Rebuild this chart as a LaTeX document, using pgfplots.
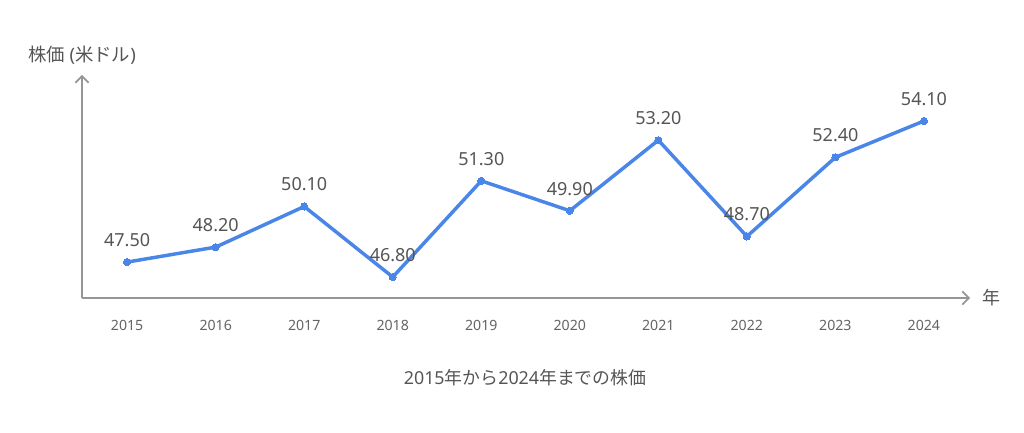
\documentclass[border=0pt]{standalone}
\usepackage{fontspec}
\setmainfont{Noto Sans}
\newfontfamily\jp{Noto Sans CJK JP}
\usepackage{pgfplots}
\pgfplotsset{compat=1.18}
\usetikzlibrary{arrows.meta}

\definecolor{linecol}{RGB}{74,134,232}
\definecolor{axiscol}{RGB}{150,150,150}
\definecolor{labcol}{RGB}{85,85,85}
\definecolor{tickcol}{RGB}{100,100,100}

\begin{document}
\begin{tikzpicture}
  \path[use as bounding box] (0,0) rectangle (768pt,324pt);
  \begin{axis}[
    at={(61.5pt,100.5pt)}, anchor=south west,
    scale only axis,
    width=666pt, height=167.25pt,
    xmin=2014.49, xmax=2024.52,
    ymin=45.82, ymax=56.25,
    axis lines=left,
    axis line style={axiscol, line width=1.4pt, -{Straight Barb[length=5pt,width=10pt,line width=1.2pt]}},
    xtick={2015,...,2024},
    ytick=\empty,
    major tick length=0pt,
    /pgf/number format/assume math mode=true,
    xticklabel={\pgfmathprintnumber[1000 sep={}]{\tick}},
    xticklabel style={font=\fontsize{10.6}{12}\selectfont, text=tickcol, yshift=-13.5pt},
    xlabel={\jp 年},
    xlabel style={at={(rel axis cs:1,0)}, anchor=west, xshift=5.5pt, font=\fontsize{13.5}{15}\selectfont, text=labcol},
    ylabel={{\jp 株価} ({\jp 米ドル})},
    ylabel style={rotate=-90, at={(rel axis cs:0,1)}, anchor=center, yshift=15pt, font=\fontsize{13.8}{15}\selectfont, text=labcol},
    clip=false,
    nodes near coords,
    point meta=y,
    nodes near coords style={/pgf/number format/.cd, fixed, fixed zerofill, precision=2, /tikz/.cd,
      anchor=center, yshift=16.5pt, font=\fontsize{13.5}{16}\selectfont, text=labcol},
  ]
    \addplot[linecol, line width=2.6pt, mark=*, mark size=2.7pt, mark options={fill=linecol, draw=linecol, line width=0pt}]
      coordinates {
        (2015,47.5) (2016,48.2) (2017,50.1) (2018,46.8) (2019,51.3)
        (2020,49.9) (2021,53.2) (2022,48.7) (2023,52.4) (2024,54.1)
      };
    \node[font=\fontsize{13.4}{15}\selectfont, text=labcol] at (rel axis cs:0.499,0) [yshift=-60pt]
      {2015{\jp 年から}2024{\jp 年までの株価}};
  \end{axis}
\end{tikzpicture}
\end{document}
